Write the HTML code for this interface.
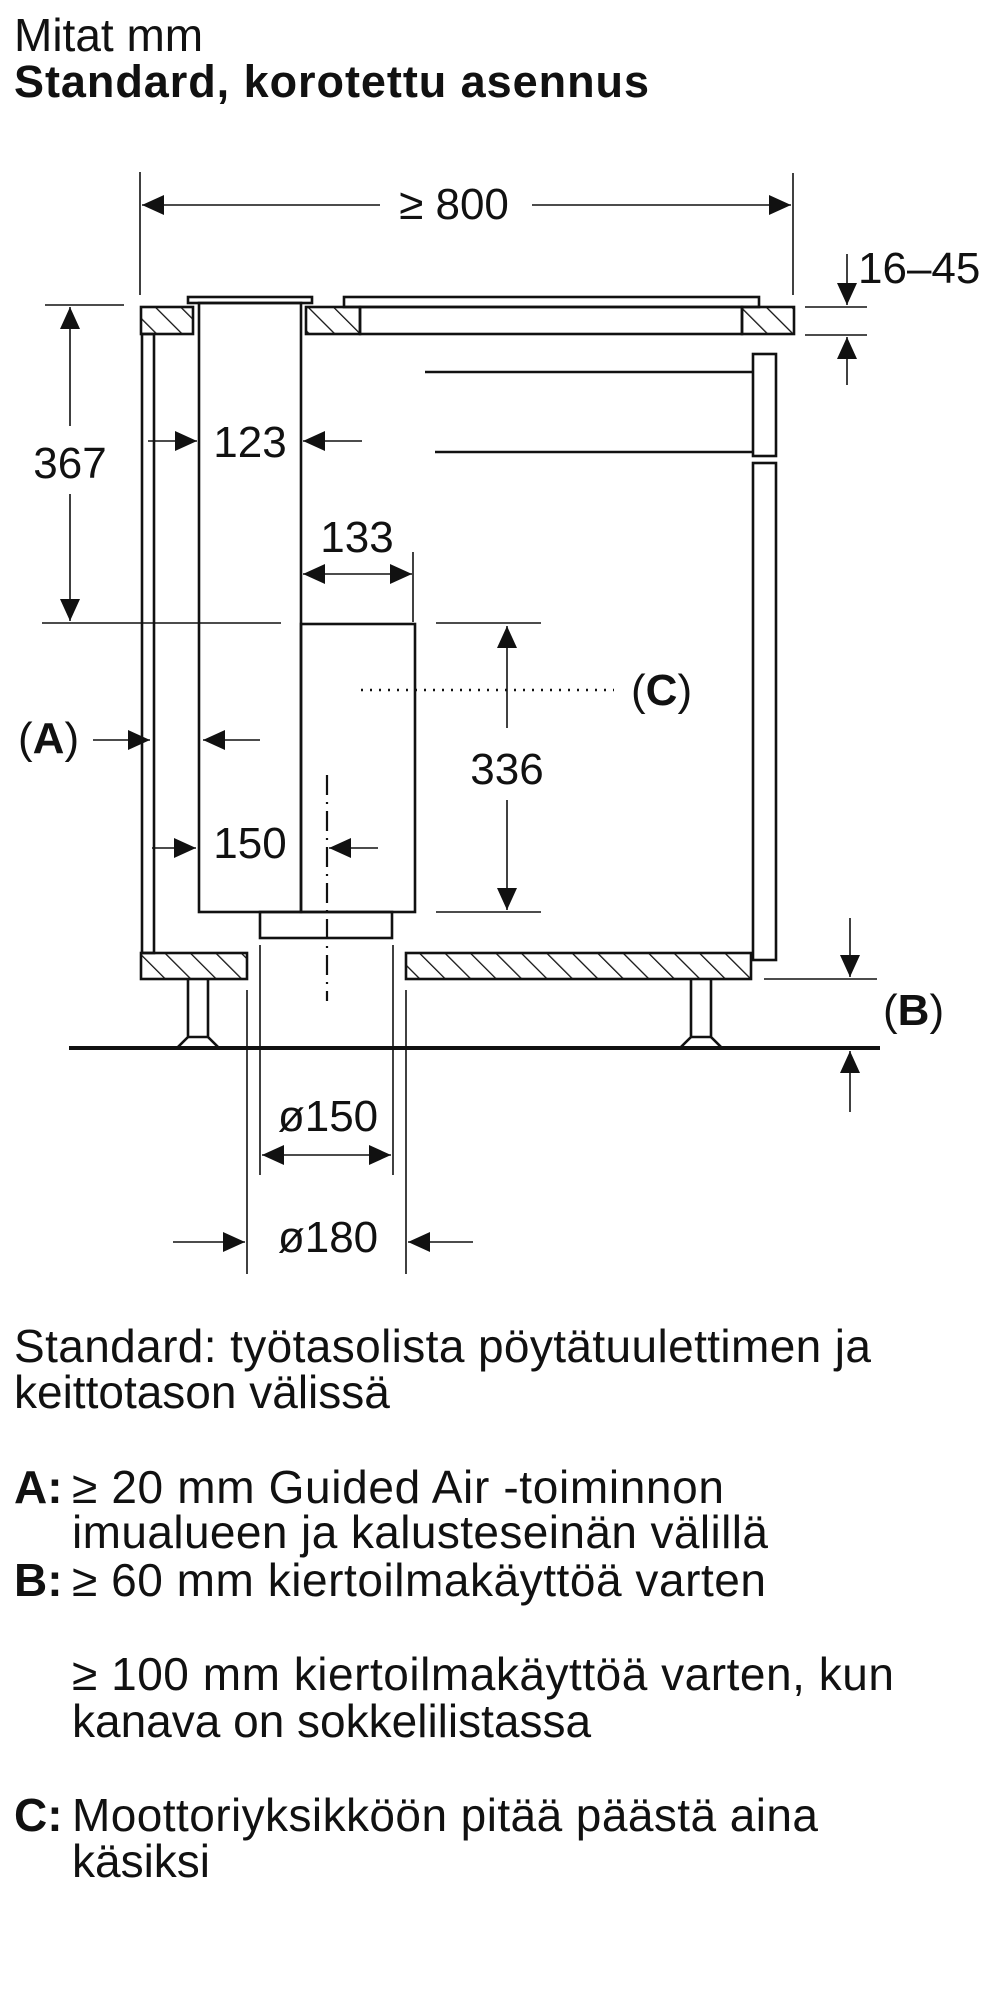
<!DOCTYPE html>
<html><head><meta charset="utf-8"><style>
html,body{margin:0;padding:0;background:#fff;}
svg{display:block;}
text{font-family:"Liberation Sans",sans-serif;fill:#111;}
</style></head><body>
<svg width="1000" height="2000" viewBox="0 0 1000 2000" xmlns="http://www.w3.org/2000/svg">
<defs>
<pattern id="h" patternUnits="userSpaceOnUse" width="18" height="18" patternTransform="rotate(-45)">
<line x1="0" y1="0" x2="0" y2="18" stroke="#111" stroke-width="2.6"/>
</pattern>
<marker id="a" viewBox="0 0 22 20" refX="22" refY="10" markerWidth="22" markerHeight="20" markerUnits="userSpaceOnUse" orient="auto-start-reverse">
<path d="M0,0 L22,10 L0,20 Z" fill="#111"/>
</marker>
</defs>
<text x="14" y="51" font-size="46">Mitat mm</text>
<text x="14" y="97" font-size="45" font-weight="bold" textLength="635">Standard, korotettu asennus</text>

<g stroke="#111" stroke-width="1.6" fill="none">
<line x1="140" y1="172" x2="140" y2="295"/>
<line x1="793" y1="173" x2="793" y2="295"/>
<line x1="380" y1="205" x2="142" y2="205" marker-end="url(#a)"/>
<line x1="532" y1="205" x2="791" y2="205" marker-end="url(#a)"/>
<line x1="847" y1="254" x2="847" y2="305" marker-end="url(#a)"/>
<line x1="805" y1="307" x2="867" y2="307"/>
<line x1="805" y1="335" x2="867" y2="335"/>
<line x1="847" y1="385" x2="847" y2="337" marker-end="url(#a)"/>
<line x1="45" y1="305" x2="124" y2="305"/>
<line x1="42" y1="623" x2="281" y2="623"/>
<line x1="70" y1="426" x2="70" y2="307" marker-end="url(#a)"/>
<line x1="70" y1="494" x2="70" y2="621" marker-end="url(#a)"/>
<line x1="148" y1="441" x2="197" y2="441" marker-end="url(#a)"/>
<line x1="362" y1="441" x2="303" y2="441" marker-end="url(#a)"/>
<line x1="413" y1="552" x2="413" y2="622"/>
<line x1="303" y1="574" x2="412" y2="574" marker-start="url(#a)" marker-end="url(#a)"/>
<line x1="436" y1="623" x2="541" y2="623"/>
<line x1="436" y1="912" x2="541" y2="912"/>
<line x1="507" y1="728" x2="507" y2="626" marker-end="url(#a)"/>
<line x1="507" y1="800" x2="507" y2="910" marker-end="url(#a)"/>
<line x1="93" y1="740" x2="150" y2="740" marker-end="url(#a)"/>
<line x1="260" y1="740" x2="203" y2="740" marker-end="url(#a)"/>
<line x1="152" y1="848" x2="196" y2="848" marker-end="url(#a)"/>
<line x1="378" y1="848" x2="329" y2="848" marker-end="url(#a)"/>
<line x1="850" y1="918" x2="850" y2="977" marker-end="url(#a)"/>
<line x1="764" y1="979" x2="877" y2="979"/>
<line x1="850" y1="1112" x2="850" y2="1051" marker-end="url(#a)"/>
<line x1="247" y1="990" x2="247" y2="1274"/>
<line x1="260" y1="945" x2="260" y2="1175"/>
<line x1="393" y1="945" x2="393" y2="1175"/>
<line x1="406" y1="990" x2="406" y2="1274"/>
<line x1="262" y1="1155" x2="391" y2="1155" marker-start="url(#a)" marker-end="url(#a)"/>
<line x1="173" y1="1242" x2="245" y2="1242" marker-end="url(#a)"/>
<line x1="473" y1="1242" x2="408" y2="1242" marker-end="url(#a)"/>
<line x1="361" y1="690" x2="614" y2="690" stroke-dasharray="2,7" stroke-width="2.4"/>
</g>

<g stroke="#111" stroke-width="2.6" fill="none">
<rect x="141" y="307" width="52" height="27" fill="url(#h)"/>
<rect x="306" y="307" width="54" height="27" fill="url(#h)"/>
<rect x="360" y="307" width="382" height="27"/>
<rect x="742" y="307" width="52" height="27" fill="url(#h)"/>
<rect x="188" y="297" width="124" height="6" fill="#fff"/>
<rect x="344" y="297" width="415" height="10"/>
<rect x="142" y="334" width="12" height="619"/>
<rect x="199" y="303" width="102" height="609"/>
<rect x="301" y="624" width="114" height="288"/>
<rect x="260" y="912" width="132" height="26"/>
<rect x="753" y="354" width="23" height="102"/>
<rect x="753" y="463" width="23" height="497"/>
<line x1="425" y1="372" x2="753" y2="372"/>
<line x1="435" y1="452" x2="753" y2="452"/>
<rect x="141" y="953" width="106" height="26" fill="url(#h)"/>
<rect x="406" y="953" width="345" height="26" fill="url(#h)"/>
<path d="M188,979 V1037 L177,1048 H219 L208,1037 V979"/>
<line x1="188" y1="1037" x2="208" y2="1037"/>
<path d="M691,979 V1037 L680,1048 H722 L711,1037 V979"/>
<line x1="691" y1="1037" x2="711" y2="1037"/>
<line x1="327" y1="775" x2="327" y2="1001" stroke-width="2.2" stroke-dasharray="20,7,2,7"/>
</g>
<line x1="69" y1="1048" x2="880" y2="1048" stroke="#111" stroke-width="4"/>

<g font-size="44">
<text x="454" y="219" text-anchor="middle">≥ 800</text>
<text x="858" y="283">16–45</text>
<text x="70" y="478" text-anchor="middle">367</text>
<text x="250" y="457" text-anchor="middle">123</text>
<text x="357" y="552" text-anchor="middle">133</text>
<text x="507" y="784" text-anchor="middle">336</text>
<text x="250" y="858" text-anchor="middle">150</text>
<text x="18" y="753">(<tspan font-weight="bold">A</tspan>)</text>
<text x="631" y="705">(<tspan font-weight="bold">C</tspan>)</text>
<text x="883" y="1025">(<tspan font-weight="bold">B</tspan>)</text>
<text x="328" y="1131" text-anchor="middle">ø150</text>
<text x="328" y="1252" text-anchor="middle">ø180</text>
</g>

<g font-size="46">
<text x="14" y="1362" textLength="857">Standard: työtasolista pöytätuulettimen ja</text>
<text x="14" y="1408">keittotason välissä</text>
<text x="14" y="1503" font-weight="bold">A:</text>
<text x="72" y="1503" textLength="652">≥ 20 mm Guided Air -toiminnon</text>
<text x="72" y="1548" textLength="696">imualueen ja kalusteseinän välillä</text>
<text x="14" y="1596" font-weight="bold">B:</text>
<text x="72" y="1596" textLength="694">≥ 60 mm kiertoilmakäyttöä varten</text>
<text x="72" y="1690" textLength="822">≥ 100 mm kiertoilmakäyttöä varten, kun</text>
<text x="72" y="1737">kanava on sokkelilistassa</text>
<text x="14" y="1831" font-weight="bold">C:</text>
<text x="72" y="1831" textLength="746">Moottoriyksikköön pitää päästä aina</text>
<text x="72" y="1877">käsiksi</text>
</g>
</svg>
</body></html>
